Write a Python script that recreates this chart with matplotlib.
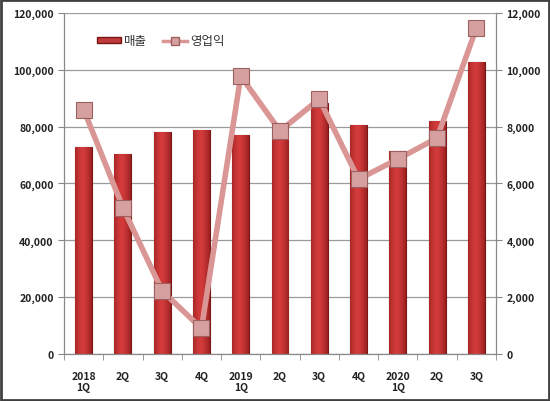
import matplotlib
matplotlib.use("Agg")
import matplotlib.pyplot as plt
import numpy as np
from matplotlib.lines import Line2D
from matplotlib.patches import Patch

plt.rcParams['font.family'] = ['Noto Sans CJK KR', 'DejaVu Sans']

quarters = ['2018\n1Q', '2Q', '3Q', '4Q', '2019\n1Q', '2Q', '3Q', '4Q', '2020\n1Q', '2Q', '3Q']
sales = [72800, 70500, 78000, 79000, 77000, 75500, 88500, 80500, 71500, 82000, 102800]
op_profit = [8600, 5150, 2220, 900, 9780, 7850, 8970, 6150, 6860, 7600, 11470]

fig = plt.figure(figsize=(5.5, 4.02), dpi=100)
ax = fig.add_axes([0.1164, 0.1169, 0.7854, 0.8483])
ax2 = ax.twinx()

x = np.arange(len(quarters))
bars = ax.bar(x, sales, width=0.43, color='#C0393B', edgecolor='#7A1515', linewidth=0.8, zorder=2)

# horizontal shading for a rounded look
grad = np.linspace(0, 1, 64)
shade = 1 - 0.6 * (2 * np.abs(grad - 0.45)) ** 1.5
img = np.zeros((1, 64, 4))
img[0, :, 0] = 0.50 + 0.33 * shade
img[0, :, 1] = 0.08 + 0.15 * shade
img[0, :, 2] = 0.08 + 0.15 * shade
img[0, :, 3] = 1
for b in bars:
    x0, w, h = b.get_x(), b.get_width(), b.get_height()
    im = ax.imshow(img, extent=[x0, x0 + w, 0, h], aspect='auto', zorder=2.1, interpolation='bilinear')
    im.set_clip_path(b)

ax.set_xlim(-0.5, len(quarters) - 0.5)
ax.set_ylim(0, 120000)
ax.set_yticks(np.arange(0, 120001, 20000))
ax.set_yticklabels([f'{v:,}' for v in range(0, 120001, 20000)])
ax.set_xticks(x)
ax.set_xticklabels(quarters)
ax.set_xticks(np.arange(-0.5, len(quarters)), minor=True)
ax.tick_params(axis='x', which='major', length=0, pad=12)
ax.tick_params(axis='x', which='minor', length=4, color='#888888')
ax.tick_params(axis='y', length=4, color='#888888')
ax.grid(axis='y', color='#9A9A9A', linewidth=0.9, zorder=0)
ax.set_axisbelow(True)

ax2.plot(x, op_profit, color='#D99694', linewidth=4, zorder=3,
         marker='s', markersize=11, markerfacecolor='#D6A0A0',
         markeredgecolor='#9E5F5F', markeredgewidth=0.8)
ax2.set_ylim(0, 12000)
ax2.set_yticks(np.arange(0, 12001, 2000))
ax2.set_yticklabels([f'{v:,}' for v in range(0, 12001, 2000)])
ax2.tick_params(axis='y', length=4, color='#888888')

for a in (ax, ax2):
    a.spines['top'].set_visible(False)
    a.spines['left'].set_color('#888888')
    a.spines['right'].set_color('#888888')
    a.spines['bottom'].set_color('#888888')
    for lbl in a.get_xticklabels() + a.get_yticklabels():
        lbl.set_fontsize(7.5)
        lbl.set_fontweight('bold')
        lbl.set_color('#222222')

handles = [Patch(facecolor='#C0393B', edgecolor='#7A1515', label='매출'),
           Line2D([], [], color='#D99694', linewidth=2.5, marker='s', markersize=6,
                  markerfacecolor='#D6A0A0', markeredgecolor='#9E5F5F', label='영업익')]
leg = ax2.legend(handles=handles, loc='upper left', bbox_to_anchor=(0.05, 0.97), ncol=2,
                 frameon=False, prop={'size': 9}, handlelength=1.9,
                 handleheight=0.45, columnspacing=1.3, handletextpad=0.25)
for t in leg.get_texts():
    t.set_color('#333333')

fig.patches.append(plt.Rectangle((0.002, 0.002), 0.996, 0.996, transform=fig.transFigure,
                                 fill=False, edgecolor='#404040', linewidth=2))

fig.savefig('out.png', dpi=100)
